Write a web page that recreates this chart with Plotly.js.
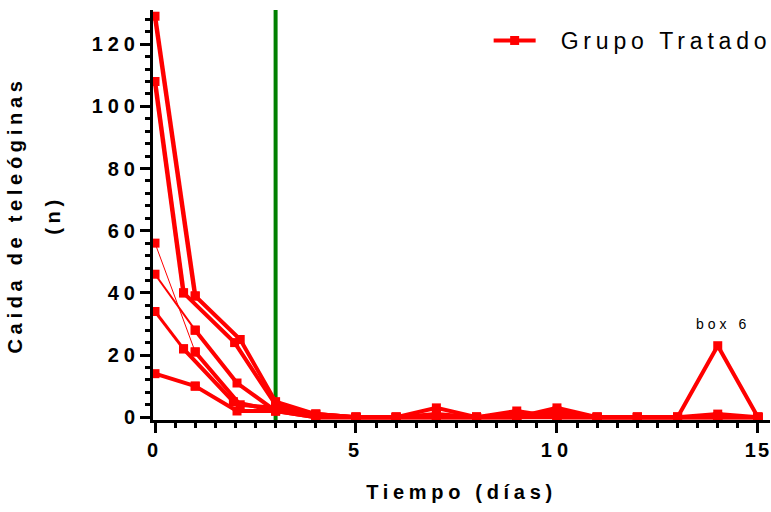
<!DOCTYPE html>
<html>
<head>
<meta charset="utf-8">
<script src="https://cdn.plot.ly/plotly-3.0.1.min.js"></script>
<style>
  html, body { margin: 0; padding: 0; background: #fff; }
  #chart { width: 771px; height: 512px; }
  .xtick text, .ytick text { letter-spacing: 5px; }
  .xaxislayer-above .xtick:last-of-type text { letter-spacing: 2px; }
  .xtitle, .ytitle { letter-spacing: 4.7px; }
  .legendtext { letter-spacing: 4.8px; transform: translateX(20px); }
  .legend .scrollbox { clip-path: none !important; }
  .annotation-text { letter-spacing: 4px; }
</style>
</head>
<body>
<div id="chart"></div>
<script>
// Sampling times (days) and tick counts (n) for each box
const laterDays = [3, 4, 5, 6, 7, 8, 9, 10, 11, 12, 13, 14, 15];

const box1Time = [0, 1, 2.12].concat(laterDays);
const box1Count = [129, 39, 25, 5, 1, 0, 0, 0, 0, 0, 3, 0, 0, 0, 0, 0];

const box2Time = [0, 0.71, 1.98].concat(laterDays);
const box2Count = [108, 40, 24, 4, 1, 0, 0, 0, 0, 2, 0, 0, 0, 0, 1, 0];

const box3Time = [0, 1, 2.12].concat(laterDays);
const box3Count = [56, 21, 4, 3, 0, 0, 0, 3, 0, 0, 0, 0, 0, 0, 0, 0];

const box4Time = [0, 1, 2.04].concat(laterDays);
const box4Count = [46, 28, 11, 2, 1, 0, 0, 1, 0, 0, 1, 0, 0, 0, 0, 0];

const box5Time = [0, 0.71, 1.95].concat(laterDays);
const box5Count = [34, 22, 5, 2, 0, 0, 0, 0, 0, 1, 0, 0, 0, 0, 0, 0];

const box6Time = [0, 1, 2.04].concat(laterDays);
const box6Count = [14, 10, 2, 2, 0, 0, 0, 0, 0, 0, 2, 0, 0, 0, 23, 0];

const treatmentDay = 3;
const groupName = 'Grupo Tratado';
const calloutLabel = 'box 6';
const calloutDay = 14;
const calloutValue = 30;

const xTickVals = [0, 5, 10, 15];
const yTickVals = [0, 20, 40, 60, 80, 100, 120];

const boxes = [
  {t: box1Time, n: box1Count, w0: 4.5},
  {t: box2Time, n: box2Count, w0: 4.5},
  {t: box3Time, n: box3Count, w0: 1},
  {t: box4Time, n: box4Count, w0: 2},
  {t: box5Time, n: box5Count, w0: 3},
  {t: box6Time, n: box6Count, w0: 4}
];

const red = '#ff0000';
const font = 'Liberation Sans, Arial, sans-serif';
const traces = [];
boxes.forEach(function (b, i) {
  traces.push({
    x: b.t.slice(0, 2), y: b.n.slice(0, 2),
    type: 'scatter', mode: 'lines+markers',
    line: {color: red, width: b.w0},
    marker: {color: red, symbol: 'square', size: 9},
    cliponaxis: false, showlegend: false, hoverinfo: 'skip'
  });
  traces.push({
    x: b.t.slice(1), y: b.n.slice(1),
    type: 'scatter', mode: 'lines+markers',
    name: groupName,
    line: {color: red, width: 4},
    marker: {color: red, symbol: 'square', size: 9},
    cliponaxis: false, showlegend: i === 0
  });
});

const layout = {
  width: 771, height: 512,
  margin: {l: 153, r: 1, t: 10, b: 92},
  paper_bgcolor: '#fff', plot_bgcolor: '#fff',
  showlegend: true,
  legend: {
    x: 0.544, y: 0.978, xanchor: 'left', yanchor: 'top',
    bgcolor: 'rgba(0,0,0,0)', borderwidth: 0,
    font: {family: font, size: 23, color: '#000'},
    itemwidth: 42
  },
  xaxis: {
    range: [-0.05, 15.3],
    tickmode: 'array', tickvals: xTickVals, ticktext: xTickVals.map(String),
    ticks: 'outside', ticklen: 10, tickwidth: 3, tickcolor: '#000',
    ticklabeloverflow: 'allow',
    minor: {dtick: 0.5, tick0: 0, ticks: 'outside', ticklen: 5, tickwidth: 3, tickcolor: '#000', showgrid: false},
    showline: true, linewidth: 3, linecolor: '#000',
    showgrid: false, zeroline: false,
    tickfont: {family: font, size: 20, weight: 700, color: '#000'},
    title: {text: 'Tiempo (días)', standoff: 25,
      font: {family: font, size: 20, weight: 700, color: '#000'}}
  },
  yaxis: {
    range: [-0.9, 131],
    tickmode: 'array', tickvals: yTickVals, ticktext: yTickVals.map(String),
    ticks: 'outside', ticklen: 10, tickwidth: 3, tickcolor: '#000',
    ticklabeloverflow: 'allow',
    minor: {dtick: 4, tick0: 0, ticks: 'outside', ticklen: 5, tickwidth: 3, tickcolor: '#000', showgrid: false},
    showline: true, linewidth: 3, linecolor: '#000',
    showgrid: false, zeroline: false,
    tickfont: {family: font, size: 20, weight: 700, color: '#000'},
    title: {text: 'Caida de teleóginas<br>(n)', standoff: 34,
      font: {family: font, size: 20, weight: 700, color: '#000'}}
  },
  shapes: [{
    type: 'line', layer: 'below',
    xref: 'x', yref: 'paper',
    x0: treatmentDay, x1: treatmentDay, y0: 0, y1: 1,
    line: {color: '#008000', width: 4}
  }],
  annotations: [{
    x: calloutDay, y: calloutValue, xref: 'x', yref: 'y',
    text: calloutLabel, showarrow: false, xshift: 5,
    font: {family: font, size: 14, color: '#000'}
  }]
};

Plotly.newPlot('chart', traces, layout, {staticPlot: true}).then(function (gd) {
  const lines = gd.querySelectorAll('.ytitle tspan.line');
  if (lines.length > 1) lines[1].setAttribute('dy', '1.9em');
  // compensate the trailing letter-spacing of right-aligned y tick labels
  gd.querySelectorAll('.ytick text').forEach(function (t) { t.setAttribute('dx', '4'); });
});
</script>
</body>
</html>
